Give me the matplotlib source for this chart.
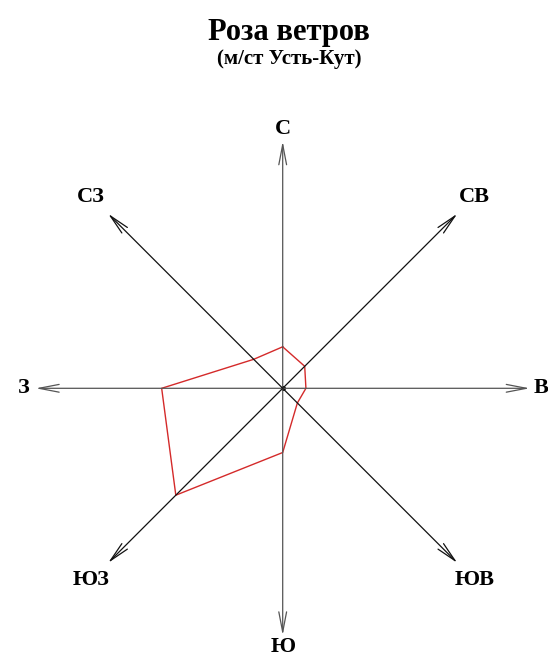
import numpy as np
import matplotlib
matplotlib.use('Agg')
import matplotlib.pyplot as plt

plt.rcParams['font.family'] = ['Liberation Serif', 'DejaVu Serif']

# повторяемость ветра по румбам, %
directions = ['С', 'СВ', 'В', 'ЮВ', 'Ю', 'ЮЗ', 'З', 'СЗ']
freq = [8.4, 6.3, 4.7, 4.2, 13.0, 30.6, 24.5, 8.3]
axis_len = 50

W, H = 548, 666
cx, cy = 282.7, 388.3          # centre of the rose, px from top-left
px_per_unit = 247 / axis_len

fig = plt.figure(figsize=(W / 100, H / 100), dpi=100)
ax = fig.add_axes([0, 0, 1, 1])
ax.set_xlim(-cx / px_per_unit, (W - cx) / px_per_unit)
ax.set_ylim(-(H - cy) / px_per_unit, cy / px_per_unit)
ax.axis('off')

angles = np.deg2rad(90 - 45 * np.arange(len(directions)))  # С up, clockwise

for i, (name, a) in enumerate(zip(directions, angles)):
    col = '#555555' if i % 2 == 0 else '#111111'
    ax.annotate('', xy=(axis_len * np.cos(a), axis_len * np.sin(a)), xytext=(0, 0),
                arrowprops=dict(arrowstyle='->,head_length=1.45,head_width=0.28',
                                color=col, lw=0.9, shrinkA=0, shrinkB=0))
    r_lab = 52.4 if i % 2 == 0 else 54.8
    ax.text(r_lab * np.cos(a), r_lab * np.sin(a), name, fontsize=16, fontweight='bold',
            ha='center', va='center')

f = np.array(freq)
xs = f * np.cos(angles)
ys = f * np.sin(angles)
ax.plot(np.append(xs, xs[0]), np.append(ys, ys[0]), color='#d42a2a', lw=1.0)
ax.plot(0, 0, 'o', color='black', ms=2.5)

fig.text(0.527, 1 - 40 / H, 'Роза ветров', fontsize=22, fontweight='bold',
         ha='center', va='baseline')
fig.text(0.527, 1 - 64 / H, '(м/ст Усть-Кут)', fontsize=15, fontweight='bold',
         ha='center', va='baseline')

fig.savefig('out.png', dpi=100)
